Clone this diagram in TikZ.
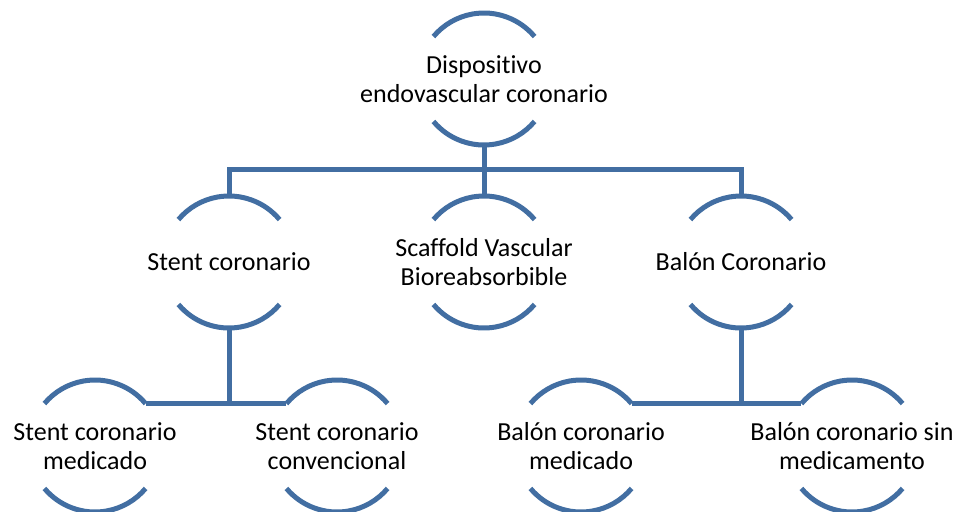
\documentclass[tikz,border=0pt]{standalone}
\usepackage{fontspec}
\setmainfont{Carlito}[Ligatures={NoCommon}]
\usetikzlibrary{positioning}
\definecolor{ringblue}{RGB}{66,110,162}

\begin{document}
\begin{tikzpicture}[x=1pt, y=1pt,
  ring/.style={circle, minimum size=132pt, inner sep=0pt, outer sep=0pt},
  ringtext/.style={align=center, inner sep=0pt, text=black, font=\fontsize{26}{29}\selectfont},
  link/.style={draw=ringblue, line width=5pt}]
\useasboundingbox (0,0) rectangle (957,-511);
% level 1
\node[ring, label={[ringtext]center:Dispositivo\\endovascular coronario}] (disp) at (484,-79) {};
% level 2
\node[ring, label={[ringtext]center:Stent coronario}] (stent) at (229,-262) {};
\node[ring, label={[ringtext]center:Scaffold Vascular\\Bioreabsorbible}] (scaf) at (484,-262) {};
\node[ring, label={[ringtext]center:Balón Coronario}] (balon) at (741,-262) {};
% level 3
\node[ring, label={[ringtext]center:Stent coronario\\medicado}] (smed) at (95,-446) {};
\node[ring, label={[ringtext]center:Stent coronario\\convencional}] (sconv) at (337,-446) {};
\node[ring, label={[ringtext]center:Balón coronario\\medicado}] (bmed) at (581,-446) {};
\node[ring, label={[ringtext]center:Balón coronario sin\\medicamento}] (bsin) at (852,-446) {};
%
\foreach \n in {disp, stent, scaf, balon, smed, sconv, bmed, bsin} {
  \draw[link] (\n.40) arc[start angle=40, end angle=140, radius=66pt];
  \draw[link] (\n.220) arc[start angle=220, end angle=320, radius=66pt];
}
%
\coordinate (bar) at (484,-169);
\draw[link] (disp.south) -- (scaf.north);
\draw[link] (stent.north) -- (stent.north |- bar) -- (balon.north |- bar) -- (balon.north);
\draw[link] (stent.south) -- (stent.south |- smed.40);
\draw[link] (smed.40) -- (sconv.140);
\draw[link] (balon.south) -- (balon.south |- bmed.40);
\draw[link] (bmed.40) -- (bsin.140);
\end{tikzpicture}
\end{document}
